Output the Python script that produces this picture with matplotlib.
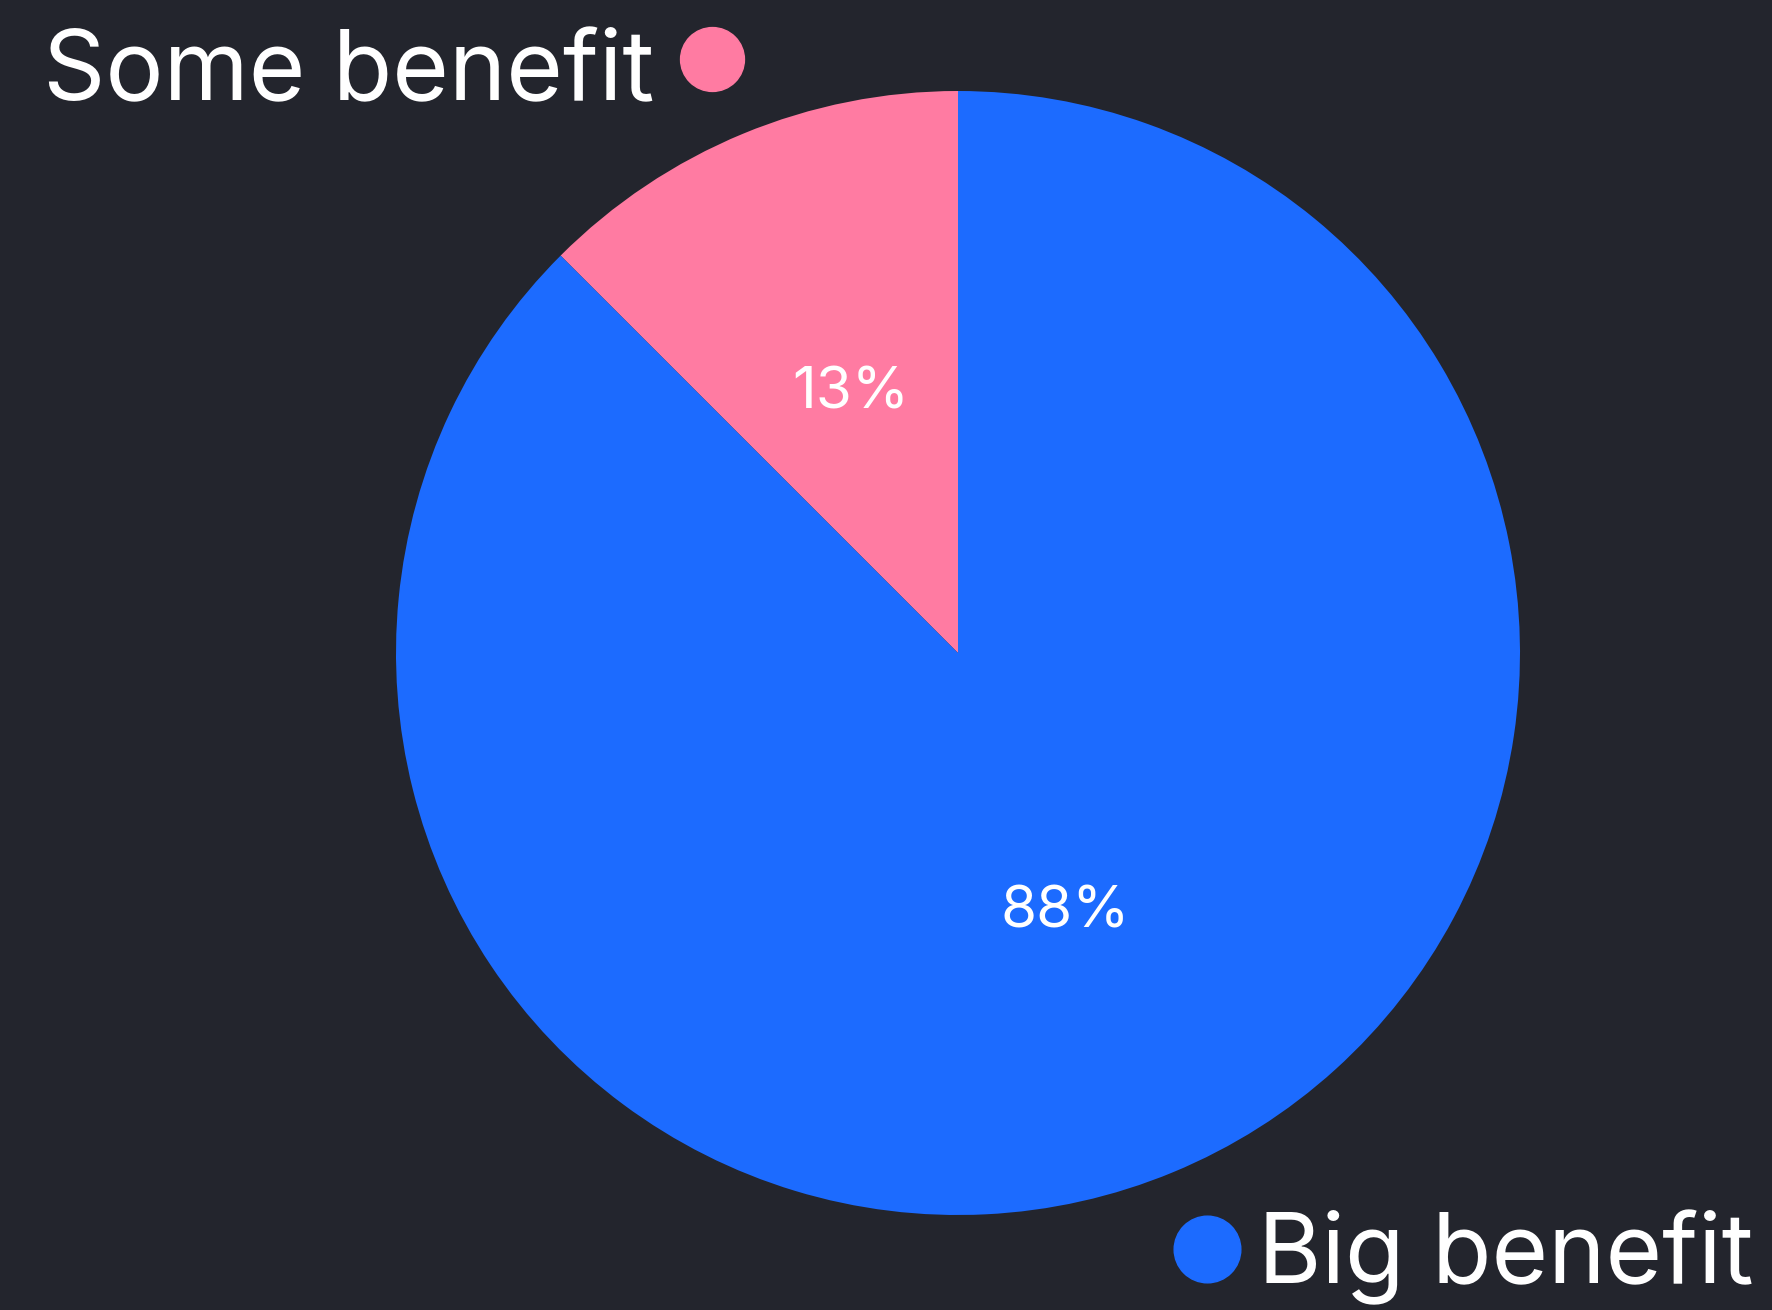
import matplotlib.pyplot as plt
import numpy as np

labels = ["Some benefit", "Big benefit"]
values = [12.5, 87.5]
pct_labels = ["13%", "88%"]
colors = ["#ff7ba2", "#1c6bff"]

bg = "#23252d"
W, H = 1772, 1310

plt.rcParams['font.family'] = ['Inter', 'DejaVu Sans']

fig = plt.figure(figsize=(W / 100, H / 100), dpi=100, facecolor=bg)

# pie centre (958, 653) px from top-left, radius 562 px
cx, cy, r = 958, 653, 562
ax = fig.add_axes([(cx - r) / W, (H - cy - r) / H, 2 * r / W, 2 * r / H])
ax.set_facecolor(bg)

wedges, _ = ax.pie(values, colors=colors, startangle=90, counterclock=True,
                   radius=1, wedgeprops=dict(linewidth=0))
for w, lab in zip(wedges, pct_labels):
    ang = np.deg2rad((w.theta1 + w.theta2) / 2)
    ax.text(0.5 * np.cos(ang), 0.5 * np.sin(ang), lab, color="white",
            fontsize=42, ha="center", va="center")
ax.set_xlim(-1, 1)
ax.set_ylim(-1, 1)
ax.set_aspect("equal")
ax.axis("off")


def px(x, y):
    return x / W, 1 - y / H


# "Some benefit" label with pink dot
fig.text(*px(43, 100), labels[0], color="white", fontsize=70,
         ha="left", va="baseline")
fig.lines.append(plt.Line2D([px(712, 59)[0]], [px(712, 59)[1]], marker="o",
                            markersize=46, color=colors[0], linestyle="none",
                            transform=fig.transFigure))

# "Big benefit" label with blue dot
fig.text(*px(1258, 1283), labels[1], color="white", fontsize=70,
         ha="left", va="baseline")
fig.lines.append(plt.Line2D([px(1207, 1249)[0]], [px(1207, 1249)[1]], marker="o",
                            markersize=48, color=colors[1], linestyle="none",
                            transform=fig.transFigure))

fig.savefig("out.png", dpi=100, facecolor=bg)
